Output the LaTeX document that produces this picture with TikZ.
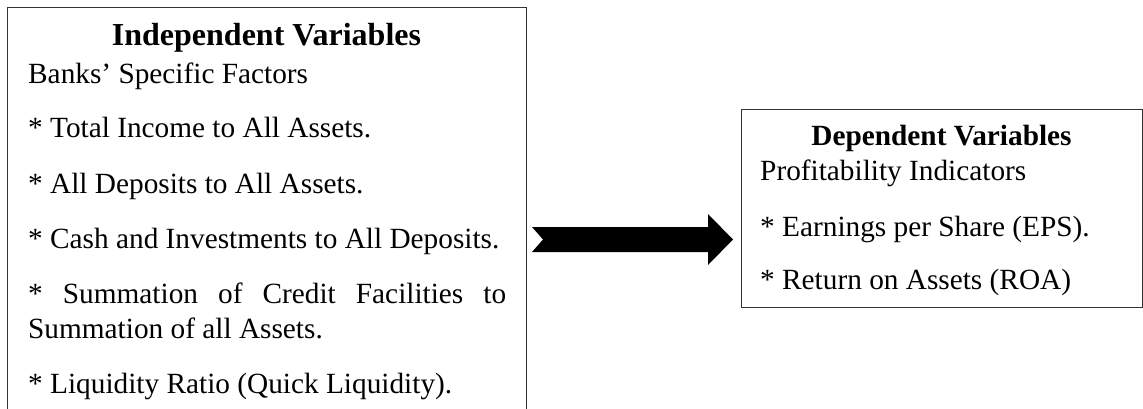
\documentclass[tikz,border=0pt]{standalone}
\usepackage{fontspec}
\setmainfont{Liberation Serif}
\begin{document}
\begin{tikzpicture}[x=1pt,y=-1pt,
  boxline/.style={draw=black!80, line width=1.3pt, rectangle, inner sep=0pt, anchor=north west},
  body/.style={anchor=base west, inner sep=0pt, font=\fontsize{29.3}{35}\selectfont},
  headL/.style={anchor=base, inner sep=0pt, font=\fontsize{32}{38}\selectfont\bfseries},
  headR/.style={anchor=base, inner sep=0pt, font=\fontsize{29.3}{35}\selectfont\bfseries},
  arrowfill/.style={fill=black}]
\useasboundingbox (0,0) rectangle (1143,409);
\clip (0,0) rectangle (1143,409);
% left box (bottom runs off the page)
\node[boxline, minimum width=519pt, minimum height=430pt] (leftbox) at (7,7) {};
\node[headL] (lh) at (266.5,46) {Independent Variables};
\node[body] (l0) at (28,84) {Banks’ Specific Factors};
\node[body] (l1) at (28,138) {* Total Income to All Assets.};
\node[body] (l2) at (28,193) {* All Deposits to All Assets.};
\node[body] (l3) at (28,248) {* Cash and Investments to All Deposits.};
\node[body] (l4) at (28,303) {\hbox to 478pt{*\hfill Summation\hfill of\hfill Credit\hfill Facilities\hfill to}};
\node[body] (l5) at (28,338) {Summation of all Assets.};
\node[body] (l6) at (28,393) {* Liquidity Ratio (Quick Liquidity).};
% right box
\node[boxline, minimum width=401pt, minimum height=198pt] (rightbox) at (741,109) {};
\node[headR] (rh) at (941.5,146) {Dependent Variables};
\node[body] (r0) at (760,180) {Profitability Indicators};
\node[body] (r1) at (760,236) {* Earnings per Share (EPS).};
\node[body] (r2) at (760,289) {* Return on Assets (ROA)};
% block arrow with notched tail
\coordinate (atail) at (532,239.5);
\coordinate (ahead) at (733,239.5);
\fill[arrowfill] (atail) ++(0,-12.5) -- ++(176,0) -- ++(0,-13) -- (ahead)
  -- ++(-25,25.5) -- ++(0,-13) -- ++(-176,0) -- ++(11,-12.5) -- cycle;
\end{tikzpicture}
\end{document}
